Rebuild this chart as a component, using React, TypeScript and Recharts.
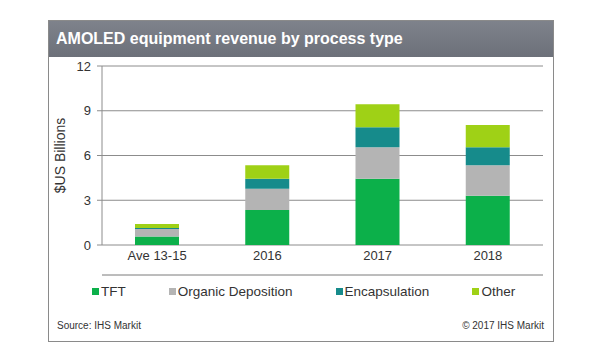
import React from 'react';
import { BarChart, Bar, XAxis, YAxis, CartesianGrid, Legend } from 'recharts';

const periods = ['Ave 13-15', '2016', '2017', '2018'];
const tft = [0.57, 2.35, 4.44, 3.31];
const organicDeposition = [0.5, 1.42, 2.11, 2.04];
const encapsulation = [0.07, 0.67, 1.34, 1.2];
const other = [0.26, 0.91, 1.55, 1.49];
const yTicks = [0, 3, 6, 9, 12];
const edgeTicks = [0, 1, 2, 3, 4];
const legendOrder = ['TFT', 'Organic Deposition', 'Encapsulation', 'Other'];

const seriesColors = {
  tft: '#0cb04a',
  organic: '#b4b4b4',
  encap: '#168b8b',
  other: '#9fd116',
};

const data = periods.map((name, i) => ({
  name,
  edge: i + 0.5,
  tft: tft[i],
  organic: organicDeposition[i],
  encap: encapsulation[i],
  other: other[i],
}));

const font = '"Liberation Sans", Arial, sans-serif';

function ChartLegend({ payload }: any) {
  const items = [...(payload || [])].sort(
    (a: any, b: any) => legendOrder.indexOf(a.value) - legendOrder.indexOf(b.value)
  );
  return (
    <div
      style={{
        height: 20,
        display: 'flex',
        justifyContent: 'flex-start',
        alignItems: 'center',
        paddingLeft: 44,
        gap: 43,
        fontFamily: font,
        fontSize: 13.5,
        color: '#333',
      }}
    >
      {items.map((p: any) => (
        <div key={p.value} style={{ display: 'flex', alignItems: 'center' }}>
          <span style={{ width: 7, height: 7, background: p.color, marginRight: 2, display: 'inline-block' }} />
          <span>{p.value}</span>
        </div>
      ))}
    </div>
  );
}

export default function App() {
  return (
    <div style={{ position: 'absolute', left: 0, top: 0, width: 600, height: 350, background: '#fff', fontFamily: font }}>
      <div
        style={{
          position: 'absolute',
          left: 48,
          top: 20,
          width: 504,
          height: 320,
          border: '1px solid #8a8a8a',
        }}
      />
      <div
        style={{
          position: 'absolute',
          left: 49,
          top: 21,
          width: 504,
          height: 36,
          background: 'linear-gradient(#7e828b, #6c7079)',
          color: '#fff',
          fontWeight: 'bold',
          fontSize: 16,
          lineHeight: '36px',
          paddingLeft: 7,
          boxSizing: 'border-box',
        }}
      >
        AMOLED equipment revenue by process type
      </div>
      <div style={{ position: 'absolute', left: 48, top: 56 }}>
        <BarChart width={505} height={250} data={data} margin={{ top: 10, right: 10, left: 0, bottom: 5 }}>
          <CartesianGrid vertical={false} stroke="#8c8c8c" />
          <XAxis
            xAxisId="edge"
            type="number"
            dataKey="edge"
            domain={[0, 4]}
            ticks={edgeTicks}
            tick={false}
            tickSize={5}
            height={6}
            stroke="#8c8c8c"
            axisLine={{ stroke: '#7a7a7a' }}
          />
          <XAxis
            xAxisId="cat"
            dataKey="name"
            axisLine={false}
            tickLine={false}
            height={30}
            tickMargin={6}
            tickSize={0}
            tick={{ fill: '#333', fontSize: 13, fontFamily: font }}
          />
          <YAxis
            width={54}
            domain={[0, 12]}
            ticks={yTicks}
            tickSize={5}
            tickMargin={6}
            stroke="#8c8c8c"
            tick={{ fill: '#333', fontSize: 13, fontFamily: font }}
            label={{
              value: '$US Billions',
              angle: -90,
              position: 'insideLeft',
              offset: 12,
              style: { textAnchor: 'middle', fill: '#333', fontSize: 14, fontFamily: font },
            }}
          />
          <Legend content={<ChartLegend />} verticalAlign="bottom" height={20} />
          <Bar xAxisId="cat" dataKey="tft" name="TFT" stackId="a" fill={seriesColors.tft} barSize={44} isAnimationActive={false} />
          <Bar xAxisId="cat" dataKey="organic" name="Organic Deposition" stackId="a" fill={seriesColors.organic} barSize={44} isAnimationActive={false} />
          <Bar xAxisId="cat" dataKey="encap" name="Encapsulation" stackId="a" fill={seriesColors.encap} barSize={44} isAnimationActive={false} />
          <Bar xAxisId="cat" dataKey="other" name="Other" stackId="a" fill={seriesColors.other} barSize={44} isAnimationActive={false} />
        </BarChart>
      </div>
      <div style={{ position: 'absolute', left: 57, top: 320, fontSize: 10, color: '#333' }}>Source: IHS Markit</div>
      <div style={{ position: 'absolute', right: 56, top: 320, fontSize: 10, color: '#333' }}>© 2017 IHS Markit</div>
    </div>
  );
}
